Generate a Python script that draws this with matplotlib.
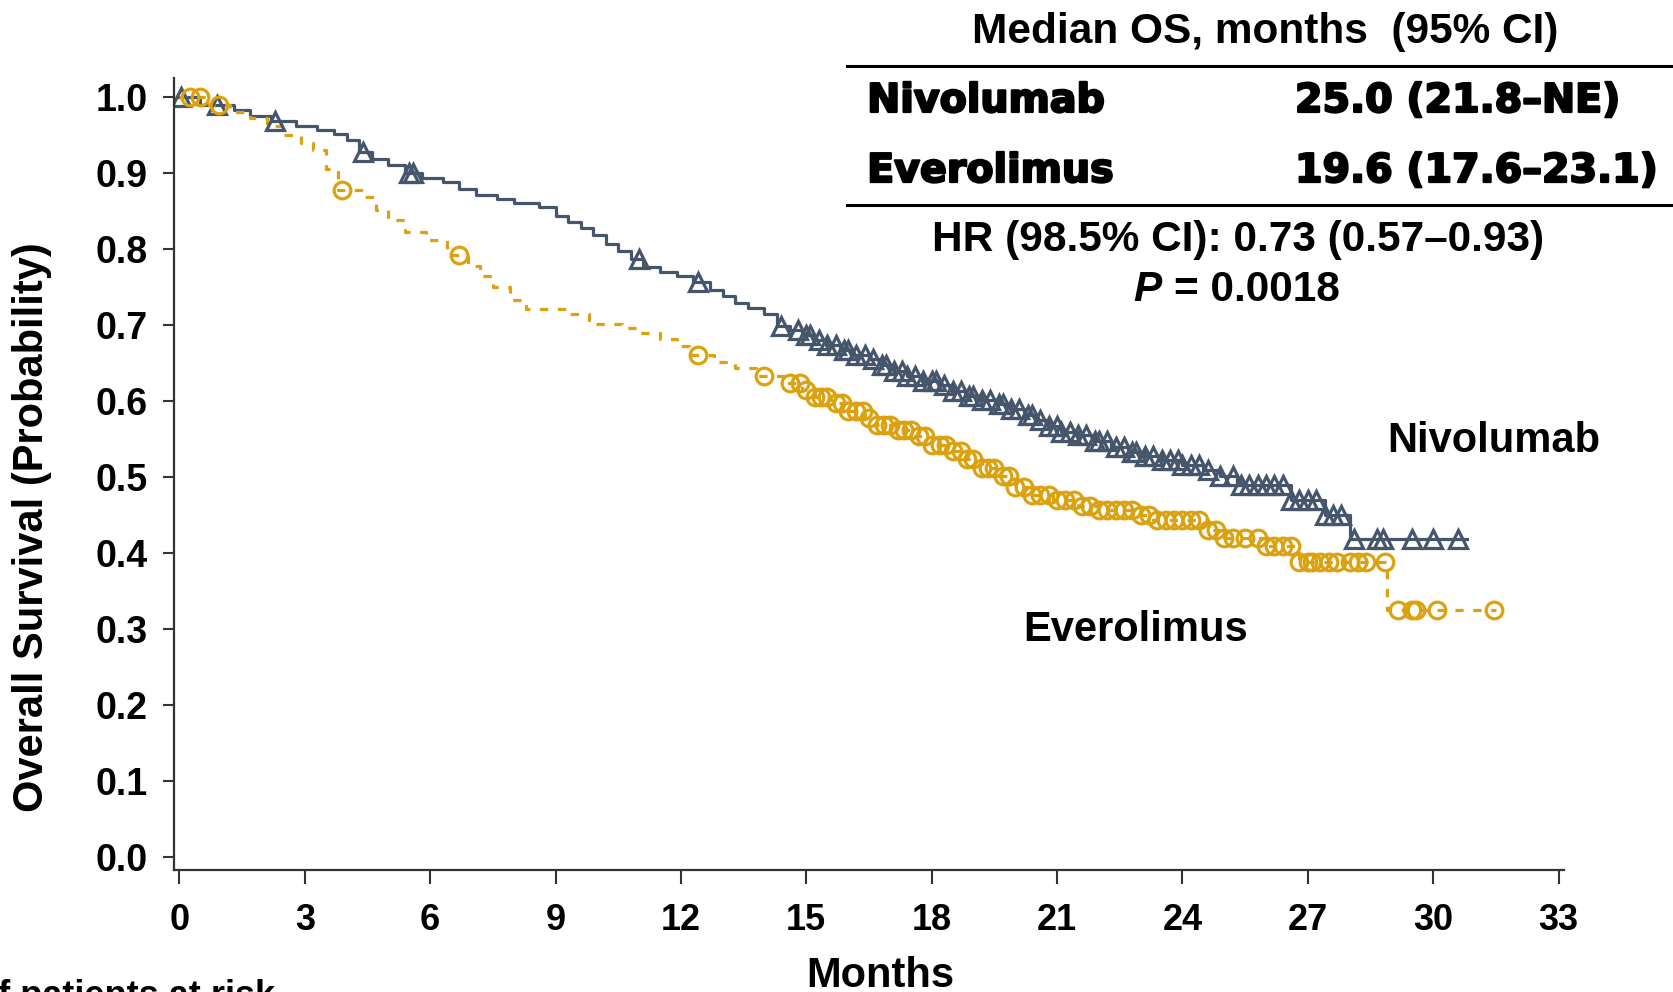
import numpy as np
import matplotlib
matplotlib.use("Agg")
import matplotlib.pyplot as plt
from matplotlib.lines import Line2D
import matplotlib.patheffects as pe

plt.rcParams['font.family'] = ['Liberation Sans', 'DejaVu Sans']
plt.rcParams['font.weight'] = 'bold'

# Kaplan-Meier steps (months, survival after step)
nivo_t = [0, 0.5, 1.3, 1.7, 2.2, 2.8, 3.3, 3.7, 4.0, 4.3, 4.6, 5.0, 5.4, 5.8, 6.3, 6.7, 7.1, 7.6,
          8.0, 8.6, 9.0, 9.3, 9.6, 9.9, 10.2, 10.5, 10.8, 11.1, 11.5, 11.9, 12.3, 12.7, 13.0,
          13.3, 13.6, 14.0, 14.3, 14.6, 14.9, 15.2, 15.5, 15.8, 16.1, 16.5, 16.8, 17.1, 17.4,
          17.8, 18.2, 18.5, 18.8, 19.2, 19.6, 19.9, 20.2, 20.5, 20.8, 21.1, 21.5, 21.9, 22.3,
          22.7, 23.1, 23.5, 24.0, 24.5, 24.9, 25.3, 26.6, 27.4, 28.0, 30.8]
nivo_s = [1.0, 0.99, 0.983, 0.975, 0.968, 0.962, 0.957, 0.951, 0.943, 0.927, 0.919, 0.911, 0.9,
          0.893, 0.888, 0.879, 0.871, 0.866, 0.861, 0.855, 0.843, 0.836, 0.828, 0.818, 0.806, 0.797,
          0.787, 0.776, 0.77, 0.764, 0.756, 0.746, 0.738, 0.729, 0.722, 0.714, 0.699, 0.693, 0.687,
          0.681, 0.674, 0.667, 0.661, 0.655, 0.647, 0.64, 0.633, 0.627, 0.621, 0.613, 0.607,
          0.602, 0.596, 0.589, 0.582, 0.575, 0.567, 0.56, 0.555, 0.548, 0.54, 0.533, 0.528,
          0.523, 0.516, 0.51, 0.502, 0.489, 0.47, 0.45, 0.418, 0.418]

ever_t = [0, 0.7, 1.2, 1.7, 2.1, 2.5, 2.9, 3.2, 3.5, 3.8, 4.4, 4.7, 5.0, 5.4, 5.9, 6.4, 6.9, 7.2,
          7.5, 7.9, 8.3, 9.3, 9.8, 10.6, 11.0, 11.5, 11.9, 12.2, 12.8, 13.3, 13.8, 14.5, 14.9,
          15.2, 15.6, 16.0, 16.4, 16.7, 17.2, 17.6, 18.0, 18.4, 18.8, 19.2, 19.6, 20.0, 20.4,
          20.9, 21.5, 22.0, 22.9, 23.3, 24.6, 24.9, 26.0, 26.8, 28.9, 31.5]
ever_s = [1.0, 0.99, 0.98, 0.972, 0.962, 0.95, 0.94, 0.93, 0.905, 0.878, 0.868, 0.852, 0.838,
          0.822, 0.812, 0.792, 0.778, 0.765, 0.75, 0.733, 0.721, 0.714, 0.702, 0.696, 0.689, 0.682,
          0.673, 0.661, 0.652, 0.643, 0.633, 0.624, 0.614, 0.606, 0.597, 0.587, 0.578, 0.569,
          0.562, 0.554, 0.542, 0.534, 0.524, 0.512, 0.502, 0.487, 0.477, 0.47, 0.462, 0.457,
          0.45, 0.444, 0.43, 0.42, 0.409, 0.389, 0.325, 0.325]

# censoring times
nivo_cens = [0.05, 0.9, 2.3, 4.4, 5.5, 5.6, 11.0, 12.4, 14.4, 14.8, 15.0, 15.1, 15.3, 15.5, 15.7,
             15.9, 16.0, 16.2, 16.4, 16.6, 16.8, 16.9, 17.1, 17.3, 17.4, 17.6, 17.8, 18.0, 18.1,
             18.3, 18.5, 18.7, 18.9, 19.0, 19.2, 19.4, 19.6, 19.7, 19.9, 20.1, 20.3, 20.4, 20.6,
             20.8, 21.0, 21.1, 21.3, 21.5, 21.7, 21.9, 22.0, 22.2, 22.4, 22.6, 22.8, 22.9, 23.1,
             23.3, 23.5, 23.7, 23.9, 24.0, 24.2, 24.4, 24.6, 24.9, 25.2, 25.4, 25.6, 25.8, 26.0,
             26.2, 26.4, 26.6, 26.8, 27.0, 27.2, 27.4, 27.6, 27.8, 28.1, 28.65, 28.8, 29.5, 30.0,
             30.6]
ever_cens = [0.25, 0.5, 0.95, 3.9, 6.7, 12.4, 14.0, 14.6, 14.85, 15.0, 15.2, 15.35, 15.5, 15.7,
             15.85, 16.0, 16.2, 16.35, 16.5, 16.7, 16.85, 17.0, 17.2, 17.35, 17.5, 17.7, 17.85,
             18.0, 18.2, 18.35, 18.5, 18.7, 18.85, 19.0, 19.2, 19.35, 19.5, 19.7, 19.85, 20.0,
             20.2, 20.4, 20.6, 20.8, 21.0, 21.2, 21.4, 21.6, 21.8, 22.0, 22.2, 22.4, 22.6, 22.8,
             23.0, 23.2, 23.4, 23.6, 23.8, 24.0, 24.2, 24.4, 24.6, 24.8, 25.0, 25.2, 25.5, 25.8,
             26.0, 26.2, 26.4, 26.6, 26.8, 27.0, 27.1, 27.3, 27.5, 27.7, 28.0, 28.2, 28.4, 28.85,
             29.15, 29.5, 29.6, 30.1, 31.45]

table_rows = ["Nivolumab", "Everolimus"]
table_vals = ["25.0 (21.8–NE)", "19.6 (17.6–23.1)"]

blue = '#45556C'
gold = '#DBA10F'


def surv_at(t, s, c):
    idx = np.searchsorted(t, c, side='right') - 1
    return np.asarray(s)[idx]


fig = plt.figure(figsize=(16.74, 9.92), dpi=100)
ax = fig.add_axes([0.1039, 0.123, 0.8304, 0.7984])

ax.step(nivo_t, nivo_s, where='post', color=blue, lw=2.3)
ax.step(ever_t, ever_s, where='post', color=gold, lw=2.3, dashes=(2.6, 3))
ax.plot(nivo_cens, surv_at(nivo_t, nivo_s, nivo_cens), ls='none', marker='^', ms=13.5,
        mfc='none', mec=blue, mew=2.3)
ax.plot(ever_cens, surv_at(ever_t, ever_s, ever_cens), ls='none', marker='o', ms=12,
        mfc='none', mec=gold, mew=2.3)

ax.set_xlim(-0.13, 33.13)
ax.set_ylim(-0.0167, 1.025)
ax.set_xticks(np.arange(0, 34, 3))
ax.set_yticks(np.arange(0, 1.01, 0.1))
ax.set_yticklabels([f"{v:.1f}" for v in np.arange(0, 1.01, 0.1)])
for sp in ['top', 'right']:
    ax.spines[sp].set_visible(False)
for sp in ['left', 'bottom']:
    ax.spines[sp].set_color('#333333')
    ax.spines[sp].set_linewidth(1.6)
ax.tick_params(axis='y', length=8, width=1.5, color='#333333', pad=11, labelsize=27)
ax.tick_params(axis='x', length=10, width=1.5, color='#333333', pad=14, labelsize=26)

ax.text(28.9, 0.548, "Nivolumab", fontsize=30, va='center', ha='left')
ax.text(20.18, 0.299, "Everolimus", fontsize=30, va='center', ha='left')

fig.text(0.526, 0.036, "Months", fontsize=30, ha='center', va='top')
fig.text(0.019, 0.4688, "Overall Survival (Probability)", fontsize=30, rotation=90,
         ha='center', va='center')
fig.text(0.1643, 0.013, "No. of patients at risk", fontsize=26, ha='right', va='top')

# median OS table
fig.text(0.7557, 0.9677, "Median OS, months  (95% CI)", fontsize=30.5, ha='center', va='center')
fig.add_artist(Line2D([0.506, 1.0], [0.9335, 0.9335], color='black', lw=2.2))
fig.add_artist(Line2D([0.506, 1.0], [0.7933, 0.7933], color='black', lw=2.2))
heavy = [pe.withStroke(linewidth=1.6, foreground='black')]
for name, val, y in zip(table_rows, table_vals, [0.8982, 0.8276]):
    fig.text(0.518, y, name, fontsize=28.5, family='DejaVu Sans', weight='bold',
             va='center', path_effects=heavy)
    fig.text(0.7736, y, val, fontsize=28.5, family='DejaVu Sans', weight='bold',
             va='center', path_effects=heavy)
fig.text(0.7397, 0.758, "HR (98.5% CI): 0.73 (0.57–0.93)", fontsize=30.5, ha='center', va='center')
fig.text(0.6936, 0.7077, "P", fontsize=30.5, style='italic', ha='right', va='center')
fig.text(0.7013, 0.7077, "= 0.0018", fontsize=30.5, ha='left', va='center')

fig.savefig("out.png", dpi=100)
